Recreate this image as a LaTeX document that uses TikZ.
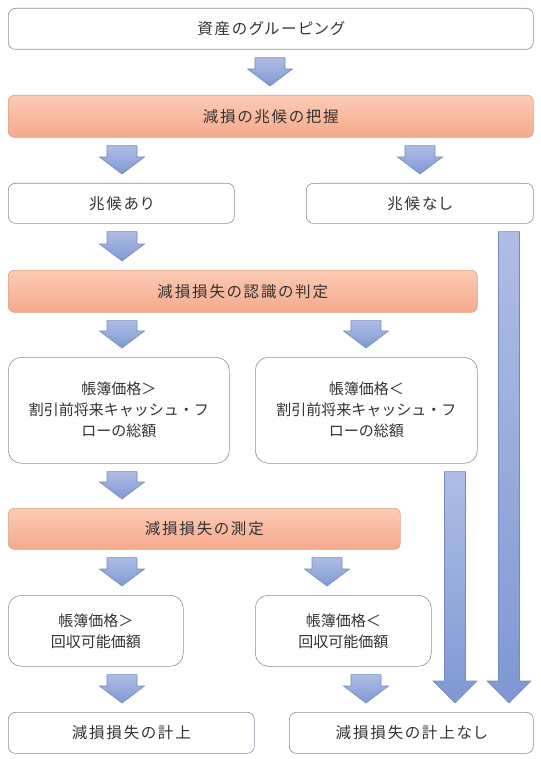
\documentclass[tikz,border=0pt]{standalone}
\usepackage{fontspec}
\newfontfamily\jpfont[RawFeature=+palt,LetterSpace=12]{Noto Sans CJK JP}
\newfontfamily\jpdense{Noto Sans CJK JP}
\usepackage{tikz}
\usetikzlibrary{calc,positioning}
\definecolor{boxline}{HTML}{8593A3}
\definecolor{stagetop}{HTML}{FCCBB5}
\definecolor{stagebot}{HTML}{F5A98B}
\definecolor{stageline}{HTML}{DDA084}
\definecolor{arrtop}{HTML}{AEBDE5}
\definecolor{arrbot}{HTML}{7F98D3}
\definecolor{arrline}{HTML}{7489BE}
\definecolor{txt}{HTML}{333333}
\tikzstyle{box}=[draw=boxline,fill=white,rounded corners=7pt,anchor=north west,inner sep=0pt,align=center,text=txt]
\tikzstyle{bigbox}=[box,rounded corners=13pt,font=\jpdense\fontsize{15}{21}\selectfont]
\tikzstyle{stage}=[box,draw=stageline,top color=stagetop,bottom color=stagebot,rounded corners=6pt]
\tikzstyle{blockarrow}=[draw=arrline,top color=arrtop,bottom color=arrbot,line width=0.6pt]
% x, from, to, half shaft, half head, head length
\newcommand{\arrowpoly}[6]{%
  \path[blockarrow] let \p1=(#2.south), \p2=(#3.north) in
    (#1pt-#4pt,\y1-8pt) -- (#1pt+#4pt,\y1-8pt) -- (#1pt+#4pt,\y2+9pt+#6pt)
    -- (#1pt+#5pt,\y2+9pt+#6pt) -- (#1pt,\y2+9pt) -- (#1pt-#5pt,\y2+9pt+#6pt)
    -- (#1pt-#4pt,\y2+9pt+#6pt) -- cycle;}
\newcommand{\shortarrow}[3]{\arrowpoly{#1}{#2}{#3}{15}{22.5}{17}}
\newcommand{\longarrow}[3]{\arrowpoly{#1}{#2}{#3}{10.5}{22}{22}}

\begin{document}
\begin{tikzpicture}[
    auto,
    semithick,
    x=1pt, y=-1pt,
    font=\jpfont\fontsize{15.5}{21}\selectfont
    ]
    \useasboundingbox (0,0) rectangle (540,759);

    \node[box, minimum width=525pt, minimum height=41pt] (grp) at (8,8) {資産のグルーピング};
    \node[stage, minimum width=525pt, minimum height=42pt] (sign) at (8,95) {減損の兆候の把握};
    \node[box, minimum width=226pt, minimum height=40pt] (ari) at (8,183) {兆候あり};
    \node[box, minimum width=227pt, minimum height=40pt] (nashi) at (306,183) {兆候なし};
    \node[stage, minimum width=469pt, minimum height=42pt] (judge) at (8,270) {減損損失の認識の判定};
    \node[bigbox, minimum width=221pt, minimum height=106pt] (gtcf) at (8,357) {帳簿価格＞\\割引前将来キャッシュ・フ\\ローの総額};
    \node[bigbox, minimum width=222pt, minimum height=106pt] (ltcf) at (255,357) {帳簿価格＜\\割引前将来キャッシュ・フ\\ローの総額};
    \node[stage, minimum width=392pt, minimum height=41pt] (meas) at (8,508) {減損損失の測定};
    \node[bigbox, minimum width=175pt, minimum height=71pt] (gtrv) at (8,595) {帳簿価格＞\\回収可能価額};
    \node[bigbox, minimum width=176pt, minimum height=71pt] (ltrv) at (255,595) {帳簿価格＜\\回収可能価額};
    \node[box, minimum width=246pt, minimum height=41pt] (rec) at (8,712) {減損損失の計上};
    \node[box, minimum width=244pt, minimum height=41pt] (norec) at (289,712) {減損損失の計上なし};

    \shortarrow{270}{grp}{sign}
    \shortarrow{122}{sign}{ari}
    \shortarrow{420}{sign}{nashi}
    \shortarrow{122}{ari}{judge}
    \shortarrow{122}{judge}{gtcf}
    \shortarrow{366}{judge}{ltcf}
    \shortarrow{122}{gtcf}{meas}
    \shortarrow{122}{meas}{gtrv}
    \shortarrow{327}{meas}{ltrv}
    \shortarrow{122}{gtrv}{rec}
    \shortarrow{366}{ltrv}{norec}
    \longarrow{509}{nashi}{norec}
    \longarrow{455}{ltcf}{norec}
\end{tikzpicture}
\end{document}
